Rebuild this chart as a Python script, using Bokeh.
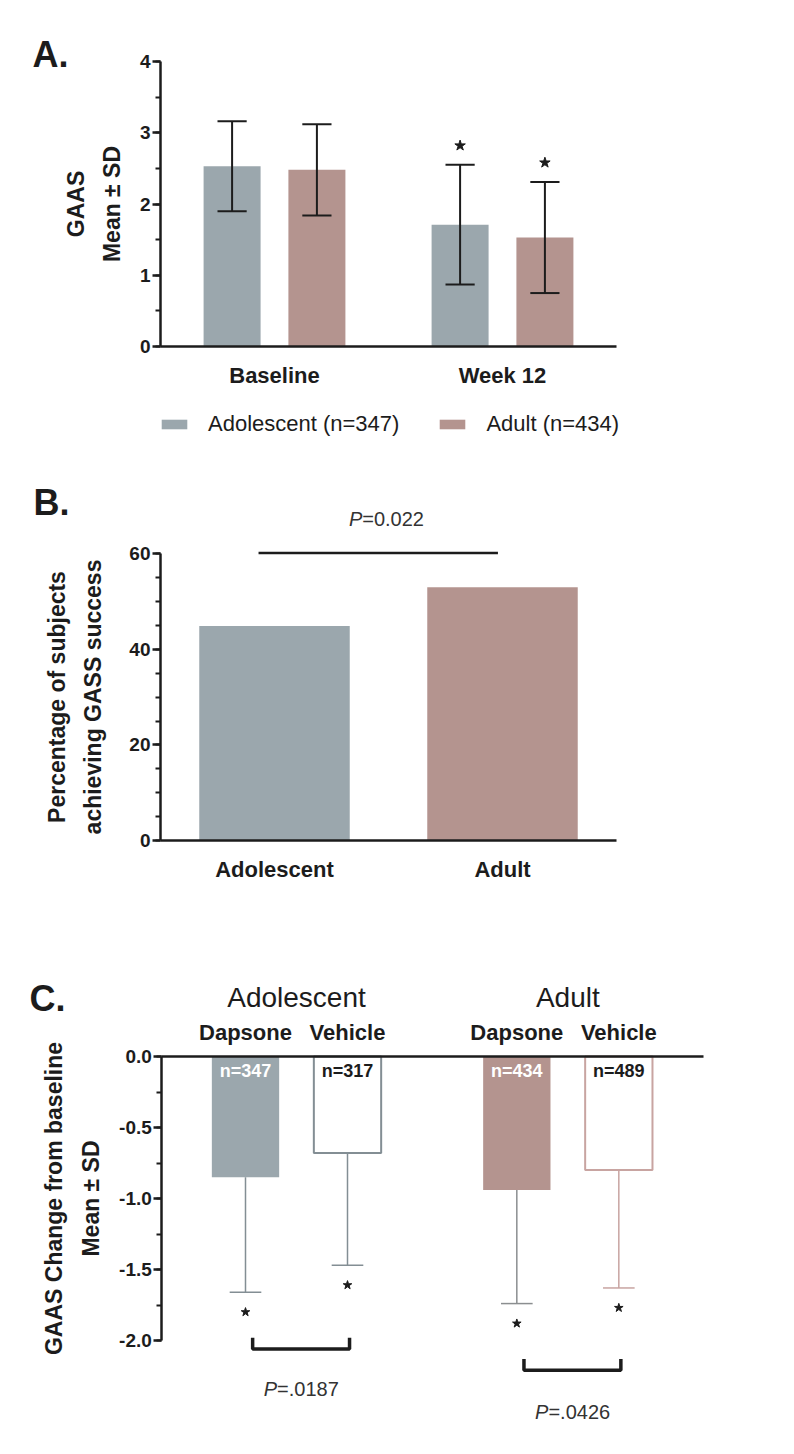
from bokeh.plotting import figure
from bokeh.layouts import column
from bokeh.models import (Range1d, SingleIntervalTicker, FixedTicker, Legend, LegendItem,
                          PrintfTickFormatter, LinearAxis)
from bokeh.core.properties import value
from bokeh.embed import file_html
from bokeh.resources import INLINE

# ---------------- data ----------------
# Panel A: GAAS mean +- SD by visit
visits = ["Baseline", "Week 12"]
legend_labels = ["Adolescent (n=347)", "Adult (n=434)"]
gaas_adolescent_mean = [2.53, 1.71]
gaas_adolescent_sd = [0.63, 0.84]
gaas_adult_mean = [2.48, 1.53]
gaas_adult_sd = [0.64, 0.78]
gaas_significant = [False, True]

# Panel B: % achieving GAAS success
cohorts = ["Adolescent", "Adult"]
success_pct = [44.9, 53.0]
p_value_b = "=0.022"

# Panel C: change from baseline
groups_c = ["Adolescent", "Adult"]
treatments = ["Dapsone", "Vehicle"]
change_adolescent_mean = [-0.85, -0.68]
change_adolescent_sd = [0.81, 0.79]
change_adult_mean = [-0.94, -0.80]
change_adult_sd = [0.80, 0.83]
n_adolescent = ["n=347", "n=317"]
n_adult = ["n=434", "n=489"]
p_values_c = ["=.0187", "=.0426"]

# ---------------- style ----------------
FONT = value("Liberation Sans")
INK = "#1c1c1c"
PTXT = "#333333"
GREY = "#9ba7ad"
ROSE = "#b4948f"
GREY_LINE = "#838e94"
ROSE_LINE = "#c8a4a1"
PAGE_L, PAGE_R = 0, 780


def make_fig(top, bottom, x0px, sx, y0px, sy):
    """Figure whose frame covers the whole canvas; data = page pixels mapped linearly."""
    xr = Range1d((PAGE_L - x0px) / sx, (PAGE_R - x0px) / sx)
    yr = Range1d((y0px - bottom) / sy, (y0px - top) / sy)
    p = figure(frame_width=PAGE_R - PAGE_L, frame_height=bottom - top, x_range=xr, y_range=yr,
               output_backend="svg", toolbar_location=None, title=None,
               min_border=0, x_axis_type=None, y_axis_type=None)
    p.outline_line_color = None
    p.background_fill_color = "white"
    p.border_fill_color = "white"
    return p


def add_y(p, at, bounds, ticker, label, standoff, formatter=None):
    ax = LinearAxis(fixed_location=at, bounds=bounds, ticker=ticker)
    if formatter is not None:
        ax.formatter = formatter
    ax.axis_line_width = 2.5
    ax.axis_line_color = INK
    ax.major_tick_line_width = 2.5
    ax.major_tick_line_color = INK
    ax.minor_tick_line_width = 2
    ax.minor_tick_line_color = INK
    ax.major_tick_in = 0
    ax.major_tick_out = 8
    ax.minor_tick_in = 0
    ax.minor_tick_out = 5
    ax.major_label_text_font = "Liberation Sans"
    ax.major_label_text_font_size = "19px"
    ax.major_label_text_font_style = "bold"
    ax.major_label_text_color = INK
    ax.major_label_standoff = 2
    ax.axis_label = label
    ax.axis_label_text_font = "Liberation Sans"
    ax.axis_label_text_font_size = "23px"
    ax.axis_label_text_font_style = "bold"
    ax.axis_label_text_color = INK
    ax.axis_label_text_line_height = 1.4
    ax.axis_label_standoff = standoff
    p.add_layout(ax, "left")
    return ax


def add_x(p, at, bounds, ticks, labels, side, size="22px", standoff=10):
    ax = LinearAxis(fixed_location=at, bounds=bounds, ticker=FixedTicker(ticks=ticks))
    ax.major_label_overrides = {t: l for t, l in zip(ticks, labels)}
    ax.axis_line_width = 2.5
    ax.axis_line_color = INK
    ax.major_tick_line_color = None
    ax.minor_tick_line_color = None
    ax.major_label_text_font = "Liberation Sans"
    ax.major_label_text_font_size = size
    ax.major_label_text_font_style = "bold"
    ax.major_label_text_color = INK
    ax.major_label_standoff = standoff
    p.add_layout(ax, side)
    return ax


def letter(p, text, x, y):
    p.text(x=[x], y=[y], text=[text], text_font=FONT, text_font_size="36px",
           text_font_style="bold", text_color=INK, text_align="left", text_baseline="middle")


def p_text(p, x, y, rest, size="20px"):
    p.text(x=[x], y=[y], text=["P"], text_font=FONT, text_font_size=size,
           text_font_style="italic", text_color=PTXT, text_align="right",
           text_baseline="middle", x_offset=-24)
    p.text(x=[x], y=[y], text=[rest], text_font=FONT, text_font_size=size,
           text_color=PTXT, text_align="left", text_baseline="middle", x_offset=-24)


# ---------------- Panel A ----------------
# page geometry: group 0 at x=274px, 228 px per group; y=0 at 346px, 71.25 px per unit
SXA, SYA = 228.0, 71.25
pa = make_fig(0, 458, 274, SXA, 346, SYA)
xs_a = list(range(len(visits)))
left_a = xs_a[0] - 0.5
right_a = xs_a[-1] + 0.5
add_y(pa, left_a, (0, 4), SingleIntervalTicker(interval=1, num_minor_ticks=2),
      "GAAS\nMean \u00b1 SD", 12)
add_x(pa, 0, (left_a, right_a), xs_a, visits, "below")

OFF_A = 0.186
W_A = 0.25
CAP_A = 0.064
renderers = []
for k, (means, sds, col) in enumerate([(gaas_adolescent_mean, gaas_adolescent_sd, GREY),
                                        (gaas_adult_mean, gaas_adult_sd, ROSE)]):
    xs = [i + (2 * k - 1) * OFF_A for i in xs_a]
    r = pa.vbar(x=xs, top=means, width=W_A, fill_color=col, line_color=None)
    renderers.append(r)
    lo = [m - s for m, s in zip(means, sds)]
    hi = [m + s for m, s in zip(means, sds)]
    pa.segment(x0=xs, x1=xs, y0=lo, y1=hi, line_color=INK, line_width=2)
    for yv in (lo, hi):
        pa.segment(x0=[x - CAP_A for x in xs], x1=[x + CAP_A for x in xs], y0=yv, y1=yv,
                   line_color=INK, line_width=2)
    sx = [x for x, s in zip(xs, gaas_significant) if s]
    sy = [h + 0.27 for h, s in zip(hi, gaas_significant) if s]
    pa.scatter(x=sx, y=sy, marker="star", size=11, fill_color=INK, line_color=INK)

legend = Legend(items=[LegendItem(label=lbl, renderers=[r]) for lbl, r in zip(legend_labels, renderers)],
                orientation="horizontal", location=(158, 21),
                glyph_width=32, glyph_height=12, label_standoff=18, spacing=37,
                label_text_font="Liberation Sans", label_text_font_size="22px",
                label_text_color=INK, padding=0, margin=0,
                border_line_color=None, background_fill_alpha=0)
pa.add_layout(legend)
letter(pa, "A.", (32 - 274) / SXA, (346 - 54) / SYA)

# ---------------- Panel B ----------------
SXB, SYB = 228.0, 4.777
pb = make_fig(458, 905, 274, SXB, 840, SYB)
xb = list(range(len(cohorts)))
left_b = xb[0] - 0.5
right_b = xb[-1] + 0.5
add_y(pb, left_b, (0, 60), SingleIntervalTicker(interval=20, num_minor_ticks=4),
      "Percentage of subjects\nachieving GASS success", 20)
add_x(pb, 0, (left_b, right_b), xb, cohorts, "below")

pb.vbar(x=xb, top=success_pct, width=0.66, fill_color=[GREY, ROSE], line_color=None)
pb.segment(x0=[xb[0] - 0.07], x1=[xb[1] - 0.02], y0=[60.2], y1=[60.2],
           line_color=INK, line_width=2.5)
p_text(pb, (xb[0] + xb[1]) / 2 - 0.01, 67.3, p_value_b)
letter(pb, "B.", (33 - 274) / SXB, (840 - 502) / SYB)

# ---------------- Panel C ----------------
SXC, SYC = 102.0, 142.0
pc = make_fig(905, 1450, 245, SXC, 1056, SYC)
GAP_C = 0.66
pos_c = [g * (len(treatments) + GAP_C) + t for g in range(len(groups_c)) for t in range(len(treatments))]
left_c = pos_c[0] - 0.82
right_c = pos_c[-1] + 0.83
add_y(pc, left_c, (-2, 0), SingleIntervalTicker(interval=0.5, num_minor_ticks=2),
      "GAAS Change from baseline\nMean \u00b1 SD", 12, PrintfTickFormatter(format="%.1f"))
add_x(pc, 0, (left_c, right_c), pos_c, treatments * len(groups_c), "above", standoff=6)

means_c = change_adolescent_mean + change_adult_mean
sds_c = change_adolescent_sd + change_adult_sd
n_c = n_adolescent + n_adult
fills = [GREY, "white", ROSE, "white"]
lines = [None, GREY_LINE, None, ROSE_LINE]
err_cols = [GREY_LINE, GREY_LINE, "#8b8e90", ROSE_LINE]
n_cols = ["white", INK, "white", INK]
W_C = 0.66
CAP_C = 0.155
for x, m, s, f, lc, ec, n, nc in zip(pos_c, means_c, sds_c, fills, lines, err_cols, n_c, n_cols):
    pc.vbar(x=[x], top=[0], bottom=[m], width=W_C, fill_color=f, line_color=lc, line_width=2)
    pc.segment(x0=[x], x1=[x], y0=[m], y1=[m - s], line_color=ec, line_width=1.5)
    pc.segment(x0=[x - CAP_C], x1=[x + CAP_C], y0=[m - s], y1=[m - s], line_color=ec, line_width=1.5)
    pc.scatter(x=[x], y=[m - s - 0.14], marker="star", size=9, fill_color=INK, line_color=INK)
    pc.text(x=[x], y=[-0.03], text=[n], text_font=FONT, text_font_size="18px",
            text_font_style="bold", text_color=nc, text_align="center", text_baseline="top")

bracket_y = [-2.06, -2.21]
ptext_y = [-2.34, -2.5]
for g, (title, by, py, pv) in enumerate(zip(groups_c, bracket_y, ptext_y, p_values_c)):
    xd = pos_c[2 * g]
    xv = pos_c[2 * g + 1]
    pc.text(x=[(xd + xv) / 2], y=[0.415], text=[title], text_font=FONT,
            text_font_size="28px", text_color=INK, text_align="center", text_baseline="middle")
    x0, x1 = xd + 0.07, xv + 0.02
    pc.multi_line(xs=[[x0, x0, x1, x1]], ys=[[by + 0.08, by, by, by + 0.08]],
                  line_color=INK, line_width=3.5)
    p_text(pc, (x0 + x1) / 2, py, pv)

letter(pc, "C.", (29 - 245) / SXC, (1056 - 998) / SYC)

layout = column(pa, pb, pc)
open("out.html", "w").write(file_html(layout, INLINE))
